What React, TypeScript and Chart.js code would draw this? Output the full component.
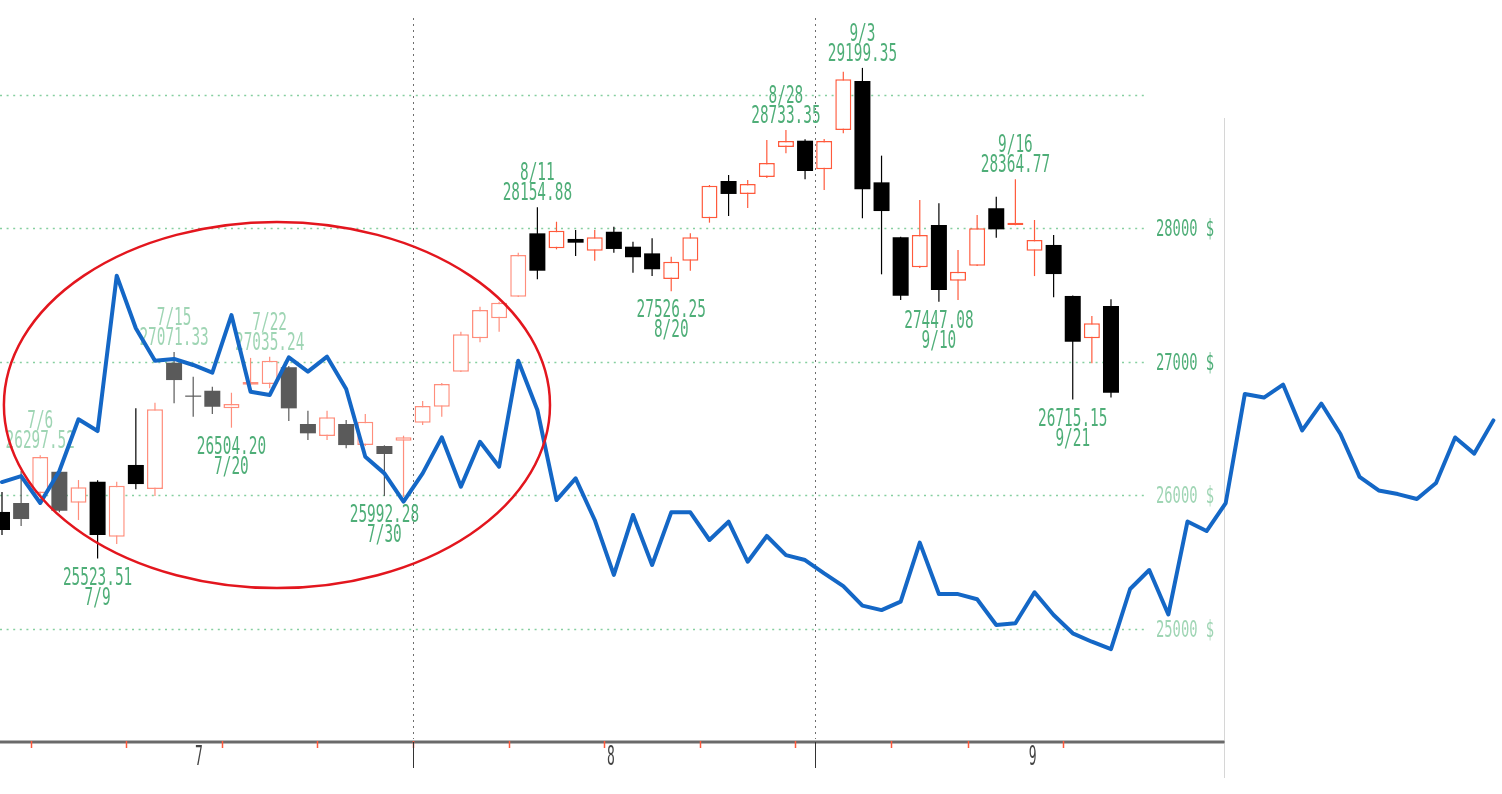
import React, { useEffect, useRef } from 'react';
import { Chart, registerables } from 'chart.js';

Chart.register(...registerables);

// ---- Candles (one per trading day, index 0..58) ----
const OPEN = [25873, 25940, 26015, 26174, 25942, 26100, 25687, 26225, 26045, 26991,
  26745, 26781, 26649, 26826, 26831, 26957, 26532, 26442, 26532, 26374,
  26367, 26407, 26542, 26661, 26924, 27174, 27324, 27485, 27960, 27848,
  27918, 27830, 27972, 27860, 27810, 27618, 27755, 28073, 28352, 28255,
  28382, 28607, 28654, 28440, 28734, 29101, 28342, 27930, 27706, 28022,
  27605, 27718, 28148, 28022, 27830, 27873, 27491, 27174, 27416];
const HIGH = [26022, 26180, 26297.52, 26190, 26112, 26110, 26100, 26650, 26691, 27071.33,
  26886, 26811, 26766, 27027, 27035.24, 26966, 26631, 26631, 26562, 26607,
  26372, 26444, 26704, 26839, 27223, 27410, 27448, 27815, 28154.88, 28047,
  27985, 27985, 28010, 27897, 27923, 27785, 27960, 28322, 28397, 28360,
  28659, 28733.35, 28665, 28667, 29171, 29199.35, 28542, 27935, 28210, 28185,
  27835, 28097, 28234, 28364.77, 28060, 27948, 27495, 27341, 27466];
const LOW = [25700, 25768, 26000, 25870, 25813, 25523.51, 25633, 26044, 25992, 26687,
  26586, 26607, 26504.2, 26820, 26799, 26554, 26412, 26412, 26350, 26367,
  25992.28, 25985, 26524, 26587, 26921, 27144, 27223, 27483, 27616, 27840,
  27790, 27755, 27815, 27665, 27640, 27526.25, 27680, 28040, 28090, 28150,
  28375, 28560, 28365, 28285, 28709, 28073, 27653, 27461, 27700, 27447.08,
  27460, 27715, 27927, 28020, 27640, 27481, 26715.15, 26986, 26730];
const CLOSE = [25738, 25820, 26285, 25882, 26058, 25700, 26070, 26082, 26642, 26861,
  26736, 26661, 26682, 26846, 27006, 26649, 26462, 26582, 26374, 26549,
  26307, 26432, 26667, 26831, 27204, 27386, 27440, 27798, 27680, 27980,
  27890, 27930, 27843, 27781, 27691, 27748, 27930, 28317, 28255, 28330,
  28487, 28652, 28427, 28652, 29114, 28290, 28127, 27493, 27948, 27536,
  27673, 27998, 27990, 28040, 27910, 27655, 27148, 27286, 26766];

// ---- Overlaid blue line (index 0..78) ----
const LINE_VALUES = [26097, 26142, 25940, 26180, 26567, 26479, 27643, 27249, 27006, 27019,
  26974, 26916, 27348, 26774, 26749, 27031, 26924, 27036, 26794, 26287,
  26162, 25950, 26162, 26432, 26062, 26399, 26212, 27006, 26637, 25962,
  26125, 25813, 25401, 25850, 25476, 25870, 25870, 25663, 25800, 25500,
  25693, 25550, 25513, 25413, 25318, 25171, 25138, 25201, 25643, 25258,
  25258, 25219, 25026, 25039, 25271, 25101, 24964, 24901, 24846, 25296,
  25438, 25105, 25801, 25730, 25940, 26757, 26730, 26827, 26484, 26685,
  26457, 26136, 26034, 26007, 25970, 26090, 26431, 26310, 26559];

// ---- Axis content ----
const GRID_VALUES = [29000, 28000, 27000, 26000, 25000];
const Y_LABEL_VALUES = [28000, 27000, 26000, 25000];
const Y_LABEL_SUFFIX = ' $';
const MONTH_LABELS = ['7', '8', '9'];
const MONTH_LABEL_AT = [10.3, 31.85, 53.9];
const MONTH_BREAKS = [21.5, 42.5];
const WEEK_BREAKS = [1.5, 6.5, 11.5, 16.5, 21.5, 26.5, 31.5, 36.5, 41.5, 46.5, 50.5, 55.5];

// ---- High / low annotations ----
const MARK_IDX = [2, 5, 9, 12, 14, 20, 28, 35, 41, 45, 49, 53, 56];
const MARK_DATE = ['7/6', '7/9', '7/15', '7/20', '7/22', '7/30', '8/11', '8/20', '8/28', '9/3', '9/10', '9/16', '9/21'];
const MARK_KIND = ['high', 'low', 'high', 'low', 'high', 'low', 'high', 'low', 'high', 'high', 'low', 'high', 'low'];

// ---- Ellipse annotation in data units ----
const ELLIPSE_CENTER = [14.38, 26674];
const ELLIPSE_RADII = [14.28, 1371];

// ---- scale ranges / styles ----
const X_MIN = -0.1046;
const X_MAX = 78.45;
const Y_MIN = 23760.3;
const Y_MAX = 29707.9;

const FADED_DOWN = [1, 3, 9, 10, 11, 15, 16, 18, 20];
const LIGHT_RED_UNTIL = 27;
const FADED_MARKS = [2, 9, 14];
const FADED_Y_LABELS = [26000, 25000];

const UP_RED = '#ff5a3c';
const UP_LIGHT = '#ff8e7c';
const DOWN_BLACK = '#000000';
const DOWN_GRAY = '#5a5a5a';
const GREEN = '#4fae78';
const GREEN_LIGHT = '#9fd5b4';
const MONO = '"DejaVu Sans Mono", "Liberation Mono", monospace';

const GRID_RIGHT = 1148;
const FRAME_RIGHT = 1224.5;
const AXIS_Y = 742;

const isUp = (i: number) => CLOSE[i] >= OPEN[i];
const candleColor = (i: number) =>
  isUp(i) ? (i <= LIGHT_RED_UNTIL ? UP_LIGHT : UP_RED) : (FADED_DOWN.includes(i) ? DOWN_GRAY : DOWN_BLACK);

function drawText(ctx: CanvasRenderingContext2D, text: string, x: number, y: number, size: number, color: string, align: CanvasTextAlign, sx: number) {
  ctx.save();
  ctx.font = `${size}px ${MONO}`;
  ctx.fillStyle = color;
  ctx.textBaseline = 'alphabetic';
  ctx.textAlign = align;
  ctx.translate(x, y);
  ctx.scale(sx, 1);
  ctx.fillText(text, 0, 0);
  ctx.restore();
}

const decorPlugin = {
  id: 'decor',
  beforeDatasetsDraw(chart: any) {
    const ctx: CanvasRenderingContext2D = chart.ctx;
    const xs = chart.scales.x;
    const ys = chart.scales.y;
    ctx.save();

    // green dotted gridlines
    ctx.strokeStyle = '#86cfa0';
    ctx.lineWidth = 1.6;
    ctx.setLineDash([2, 4.6]);
    GRID_VALUES.forEach((v) => {
      const y = Math.round(ys.getPixelForValue(v)) + 0.5;
      ctx.beginPath();
      ctx.moveTo(0, y);
      ctx.lineTo(GRID_RIGHT, y);
      ctx.stroke();
    });

    // month separators (dotted, gray)
    ctx.strokeStyle = '#6e6e6e';
    ctx.lineWidth = 1;
    ctx.setLineDash([2, 4]);
    MONTH_BREAKS.forEach((b) => {
      const x = Math.round(xs.getPixelForValue(b)) + 0.5;
      ctx.beginPath();
      ctx.moveTo(x, 18);
      ctx.lineTo(x, AXIS_Y - 3);
      ctx.stroke();
    });
    ctx.setLineDash([]);

    // right frame line
    ctx.strokeStyle = '#d6d6d6';
    ctx.lineWidth = 1;
    ctx.beginPath();
    ctx.moveTo(FRAME_RIGHT, 118);
    ctx.lineTo(FRAME_RIGHT, 778);
    ctx.stroke();

    // bottom axis
    ctx.strokeStyle = '#b5b5b5';
    ctx.lineWidth = 4;
    ctx.beginPath();
    ctx.moveTo(0, AXIS_Y);
    ctx.lineTo(FRAME_RIGHT, AXIS_Y);
    ctx.stroke();
    ctx.strokeStyle = '#6a6a6a';
    ctx.lineWidth = 2;
    ctx.beginPath();
    ctx.moveTo(0, AXIS_Y);
    ctx.lineTo(FRAME_RIGHT, AXIS_Y);
    ctx.stroke();

    // week ticks (red)
    ctx.strokeStyle = '#ff5a3c';
    ctx.lineWidth = 1.5;
    WEEK_BREAKS.forEach((b) => {
      const x = Math.round(xs.getPixelForValue(b)) + 0.5;
      ctx.beginPath();
      ctx.moveTo(x, AXIS_Y - 1);
      ctx.lineTo(x, AXIS_Y + 6);
      ctx.stroke();
    });
    // month ticks (black)
    ctx.strokeStyle = '#333333';
    ctx.lineWidth = 1;
    MONTH_BREAKS.forEach((b) => {
      const x = Math.round(xs.getPixelForValue(b)) + 0.5;
      ctx.beginPath();
      ctx.moveTo(x, AXIS_Y);
      ctx.lineTo(x, AXIS_Y + 26);
      ctx.stroke();
    });
    // month labels
    MONTH_LABELS.forEach((m, k) => {
      drawText(ctx, m, xs.getPixelForValue(MONTH_LABEL_AT[k]), 765, 26, '#444444', 'center', 0.5);
    });

    // y labels
    Y_LABEL_VALUES.forEach((v) => {
      const y = ys.getPixelForValue(v);
      const c = FADED_Y_LABELS.includes(v) ? GREEN_LIGHT : GREEN;
      drawText(ctx, `${v}${Y_LABEL_SUFFIX}`, 1156, y + 8, 23, c, 'left', 0.6);
    });

    // high / low annotations
    MARK_IDX.forEach((i, k) => {
      const x = xs.getPixelForValue(i);
      const c = FADED_MARKS.includes(i) ? GREEN_LIGHT : GREEN;
      if (MARK_KIND[k] === 'high') {
        const y = ys.getPixelForValue(HIGH[i]);
        drawText(ctx, MARK_DATE[k], x, y - 27, 24, c, 'center', 0.6);
        drawText(ctx, HIGH[i].toFixed(2), x, y - 7, 24, c, 'center', 0.6);
      } else {
        const y = ys.getPixelForValue(LOW[i]);
        drawText(ctx, LOW[i].toFixed(2), x, y + 26, 24, c, 'center', 0.6);
        drawText(ctx, MARK_DATE[k], x, y + 46, 24, c, 'center', 0.6);
      }
    });
    ctx.restore();
  },
  afterDatasetsDraw(chart: any) {
    const ctx: CanvasRenderingContext2D = chart.ctx;
    const xs = chart.scales.x;
    const ys = chart.scales.y;
    const cx = xs.getPixelForValue(ELLIPSE_CENTER[0]);
    const cy = ys.getPixelForValue(ELLIPSE_CENTER[1]);
    const rx = xs.getPixelForValue(ELLIPSE_CENTER[0] + ELLIPSE_RADII[0]) - cx;
    const ry = ys.getPixelForValue(ELLIPSE_CENTER[1] - ELLIPSE_RADII[1]) - cy;
    ctx.save();
    ctx.strokeStyle = '#e3161e';
    ctx.lineWidth = 2.5;
    ctx.beginPath();
    ctx.ellipse(cx, cy, rx, ry, 0, 0, Math.PI * 2);
    ctx.stroke();
    ctx.restore();
  },
};

export default function App() {
  const ref = useRef<HTMLCanvasElement>(null);

  useEffect(() => {
    const canvas = ref.current;
    if (!canvas) return;
    const idx = OPEN.map((_, i) => i);
    const wickData = idx.map((i) => ({ x: i, y: [LOW[i], HIGH[i]] }));
    const bodyData = idx.map((i) => ({ x: i, y: [Math.min(OPEN[i], CLOSE[i]), Math.max(OPEN[i], CLOSE[i])] }));
    const lineData = LINE_VALUES.map((v, i) => ({ x: i, y: v }));

    const chart = new Chart(canvas, {
      type: 'bar',
      data: {
        datasets: [
          {
            type: 'line',
            data: lineData as any,
            borderColor: '#1467c6',
            borderWidth: 4,
            pointRadius: 0,
            tension: 0,
            fill: false,
            borderJoinStyle: 'round',
            borderCapStyle: 'round',
            order: 0,
          } as any,
          {
            type: 'bar',
            data: bodyData as any,
            backgroundColor: idx.map((i) => (isUp(i) ? '#ffffff' : candleColor(i))),
            borderColor: idx.map((i) => candleColor(i)),
            borderWidth: idx.map((i) => (isUp(i) ? 1.5 : 0)),
            borderSkipped: false,
            barThickness: 16,
            grouped: false,
            inflateAmount: 0,
            order: 1,
          } as any,
          {
            type: 'bar',
            data: wickData as any,
            backgroundColor: idx.map((i) => candleColor(i)),
            borderWidth: 0,
            barThickness: 1.2,
            grouped: false,
            inflateAmount: 0,
            order: 2,
          } as any,
        ],
      },
      options: {
        responsive: false,
        animation: false,
        devicePixelRatio: 1,
        events: [],
        layout: { padding: 0 },
        scales: {
          x: { type: 'linear', min: X_MIN, max: X_MAX, display: false, offset: false },
          y: { type: 'linear', min: Y_MIN, max: Y_MAX, display: false },
        },
        plugins: { legend: { display: false }, tooltip: { enabled: false } },
      } as any,
      plugins: [decorPlugin],
    });
    return () => chart.destroy();
  }, []);

  return (
    <div style={{ position: 'fixed', left: 0, top: 0, width: 1502, height: 794, background: '#ffffff' }}>
      <canvas ref={ref} width={1502} height={794} style={{ display: 'block', width: 1502, height: 794 }} />
    </div>
  );
}
